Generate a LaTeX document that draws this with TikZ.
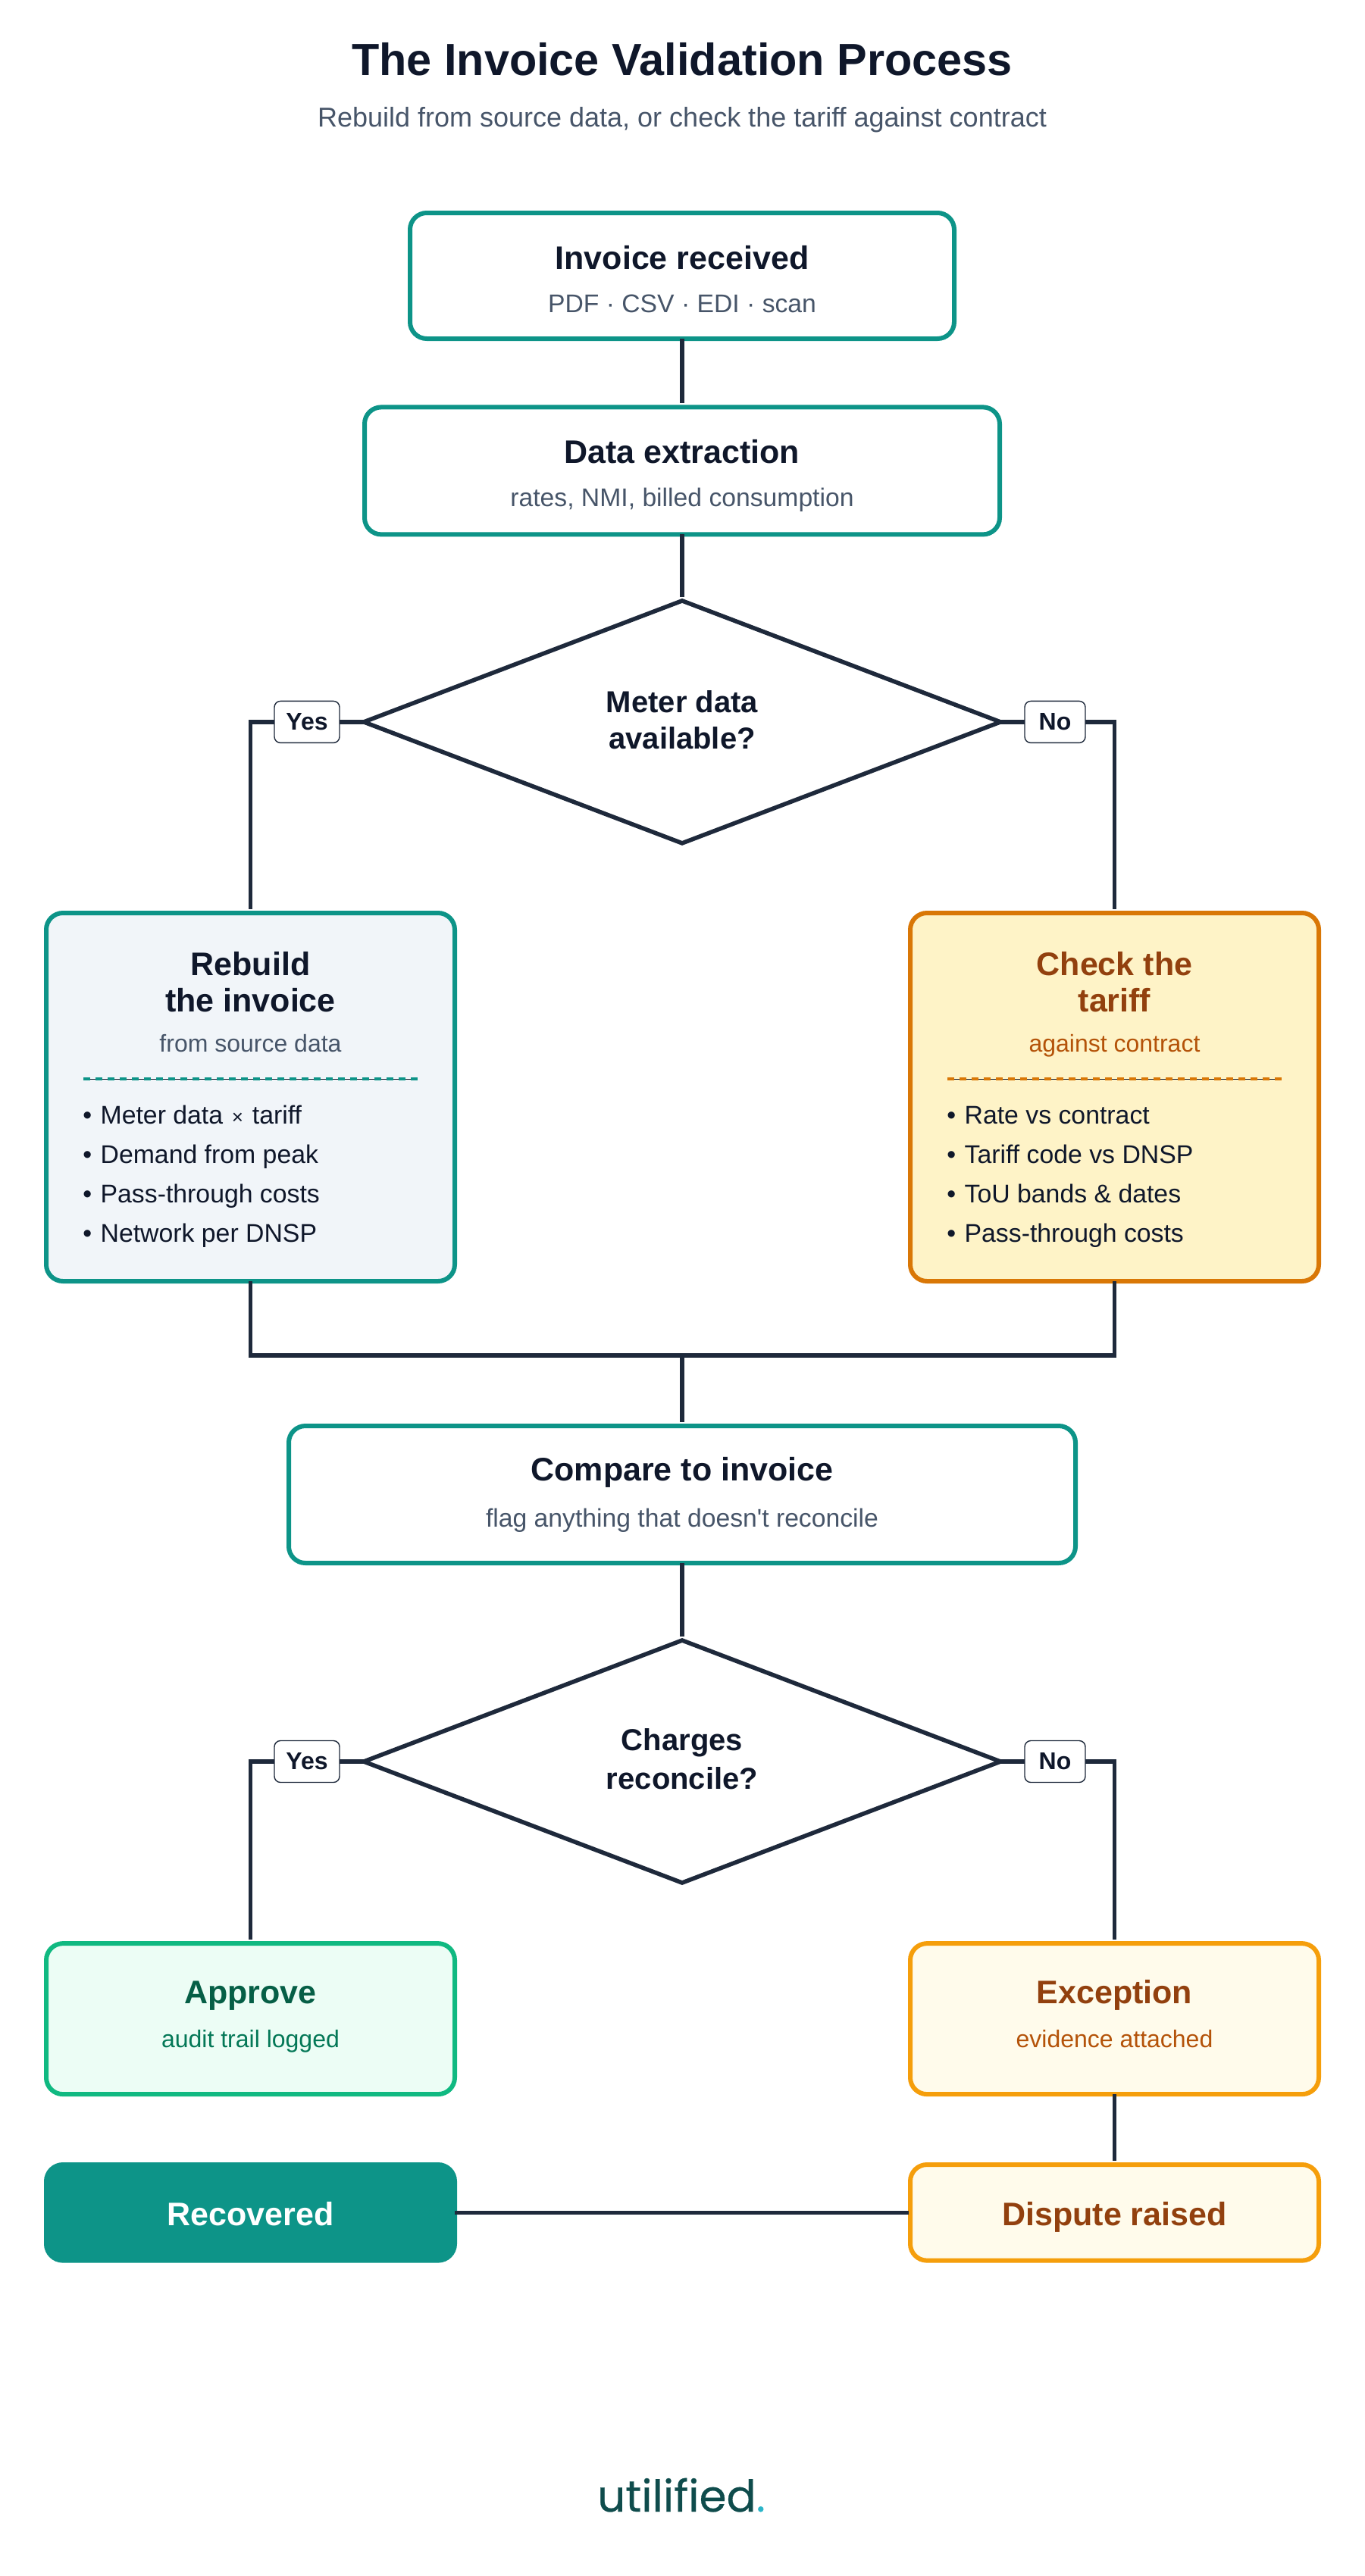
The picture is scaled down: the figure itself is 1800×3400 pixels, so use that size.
\documentclass[tikz,border=0pt]{standalone}
\usepackage{fontspec}
\setmainfont{Liberation Sans}[Ligatures=TeXOff]
\newfontfamily\logofont{Poppins}[FakeBold=0.4]
\usetikzlibrary{positioning,shapes.geometric}

\definecolor{inkDark}{HTML}{0F172A}
\definecolor{inkSub}{HTML}{475569}
\definecolor{lineDark}{HTML}{1E293B}
\definecolor{tealMain}{HTML}{0D9488}
\definecolor{slateFill}{HTML}{F1F5F9}
\definecolor{amberMain}{HTML}{D97706}
\definecolor{amberFill}{HTML}{FEF3C7}
\definecolor{amberHead}{HTML}{92400E}
\definecolor{amberSub}{HTML}{B45309}
\definecolor{amberEdge}{HTML}{F59E0B}
\definecolor{creamFill}{HTML}{FFFBEB}
\definecolor{greenEdge}{HTML}{10B981}
\definecolor{greenFill}{HTML}{ECFDF5}
\definecolor{greenHead}{HTML}{065F46}
\definecolor{greenSub}{HTML}{047857}
\definecolor{logoInk}{HTML}{0F4C4C}
\definecolor{logoDot}{HTML}{2BB5C9}

\newcommand{\headfont}{\fontsize{21.5pt}{23.75pt}\bfseries\selectfont}
\newcommand{\subfont}{\fontsize{16.85pt}{23.75pt}\selectfont}
\newcommand{\panelsubfont}{\fontsize{16pt}{23.75pt}\selectfont}
\newcommand{\bul}{•\hspace{1pt} }
\newcommand{\timesmark}{\hspace{1.2pt}{\fontsize{13pt}{13pt}\selectfont ×}\hspace{1.2pt}}

\begin{document}
\begin{tikzpicture}[x=0.5pt, y=-0.5pt,
    basebox/.style={rectangle, rounded corners=11pt, line width=3pt, outer sep=0pt, inner sep=0pt, align=center, text=inkDark, font=\fontsize{16pt}{23.75pt}\selectfont},
    procbox/.style={basebox, draw=tealMain, fill=white},
    decision/.style={diamond, draw=lineDark, fill=white, line width=2.8pt, outer sep=0pt, inner sep=0pt, aspect=2.625, minimum width=420pt, minimum height=160pt, align=center, text=inkDark, font=\fontsize{20pt}{23.65pt}\bfseries\selectfont},
    answer/.style={rectangle, rounded corners=4pt, draw=lineDark, fill=white, line width=0.7pt, outer sep=0pt, inner sep=0pt, minimum height=27.5pt, text=inkDark, font=\fontsize{16pt}{20pt}\bfseries\selectfont},
    conn/.style={draw=lineDark, line width=2.8pt},
    listtxt/.style={anchor=base west, align=left, inner sep=0pt, text=inkDark, font=\fontsize{16.9pt}{26pt}\selectfont},
    rulebase/.style={draw=inkDark, line width=0.5pt},
    ruledash/.style={line width=2pt, dash pattern=on 4.5pt off 3.5pt}
  ]
    \useasboundingbox (0,0) rectangle (1800,3400);
    % Heading
    \node[anchor=base, text=inkDark, font=\fontsize{29.7pt}{36pt}\bfseries\selectfont] (mainTitle) at (900,99) {The Invoice Validation Process};
    \node[anchor=base, text=inkSub, font=\fontsize{18pt}{22pt}\selectfont] (mainSub) at (900,167) {Rebuild from source data, or check the tariff against contract};
    % Rectangle: Invoice received
    \node[procbox, minimum width=359pt, minimum height=83pt, text height=48pt, text depth=0pt] (invoice) at (900,364) {{\headfont Invoice received}\\[4.75pt]{\subfont\color{inkSub} PDF · CSV · EDI · scan}};
    % Rectangle: Data extraction
    \node[procbox, minimum width=419pt, minimum height=84pt, text height=47pt, text depth=0pt, below=45.2pt of invoice] (extract) {{\headfont Data extraction}\\[4.75pt]{\subfont\color{inkSub} rates, NMI, billed consumption}};
    % Diamond: Meter data
    \node[decision, text height=35.3pt, text depth=0pt, below=43.75pt of extract] (meterCheck) {Meter data\\available?};
    \node[answer, minimum width=43pt, left=16pt of meterCheck] (meterYes) {Yes};
    \node[answer, minimum width=40pt, right=16pt of meterCheck] (meterNo) {No};
    % Panels: Rebuild and Check
    \node[basebox, draw=tealMain, fill=slateFill, minimum width=269.5pt, minimum height=243pt, text height=0pt, text depth=60pt] (rebuild) at (330.5,1448) {{\headfont Rebuild}\\{\headfont the invoice}\\[2.75pt]{\panelsubfont\color{inkSub} from source data}};
    \node[basebox, draw=amberMain, fill=amberFill, minimum width=269.5pt, minimum height=243pt, text height=0pt, text depth=60pt, text=amberHead] (tariff) at (1470.5,1448) {{\headfont Check the}\\{\headfont tariff}\\[2.75pt]{\panelsubfont\color{amberSub} against contract}};
    \draw[rulebase] (110,1424) -- (551,1424);
    \draw[ruledash, draw=tealMain] (110,1424) -- (551,1424);
    \draw[rulebase] (1250,1424) -- (1691,1424);
    \draw[ruledash, draw=amberMain] (1250,1424) -- (1691,1424);
    \node[listtxt] (rebuildList) at (109,1639.5) {\bul Meter data \timesmark{} tariff\\\bul Demand from peak\\\bul Pass-through costs\\\bul Network per DNSP};
    \node[listtxt] (tariffList) at (1249,1639.5) {\bul Rate vs contract\\\bul Tariff code vs DNSP\\\bul ToU bands \& dates\\\bul Pass-through costs};
    % Rectangle: Compare
    \coordinate (merge) at (900,1789);
    \node[procbox, minimum width=519pt, minimum height=90.5pt, below=46.5pt of merge, text height=42.5pt, text depth=0pt] (compare) {{\headfont Compare to invoice}\\[6.75pt]{\subfont\color{inkSub} flag anything that doesn't reconcile}};
    % Diamond: Charges
    \node[decision, text height=36.7pt, text depth=0pt, below=51pt of compare] (chargeCheck) {Charges\\[2.2pt]reconcile?};
    \node[answer, minimum width=43pt, left=16pt of chargeCheck] (chargeYes) {Yes};
    \node[answer, minimum width=40pt, right=16pt of chargeCheck] (chargeNo) {No};
    % Outcomes
    \node[basebox, draw=greenEdge, fill=greenFill, minimum width=269.5pt, minimum height=99.5pt, text height=37.4pt, text depth=0pt] (approve) at (330.5,2664.6) {{\headfont\color{greenHead} Approve}\\[4.95pt]{\panelsubfont\color{greenSub} audit trail logged}};
    \node[basebox, draw=amberEdge, fill=creamFill, minimum width=269.5pt, minimum height=99.5pt, text height=37.4pt, text depth=0pt] (exception) at (1470.5,2664.6) {{\headfont\color{amberHead} Exception}\\[4.95pt]{\panelsubfont\color{amberSub} evidence attached}};
    \node[basebox, draw=tealMain, fill=tealMain, minimum width=269.5pt, minimum height=63.3pt, text height=16.7pt, text depth=0pt, below=46.45pt of approve] (recovered) {{\headfont\color{white} Recovered}};
    \node[basebox, draw=amberEdge, fill=creamFill, minimum width=269.5pt, minimum height=63.3pt, text height=16.7pt, text depth=0pt, below=46.45pt of exception] (dispute) {{\headfont\color{amberHead} Dispute raised}};
    % Logo
    \node[anchor=base, text=logoInk, font=\fontsize{29pt}{36pt}\logofont\selectfont] (logo) at (899,3315) {utilified\textcolor{logoDot}{.}};
    % Connectors
    \draw[conn, shorten >=2.5pt] (invoice) -- (extract);
    \draw[conn, shorten >=2.5pt] (extract) -- (meterCheck);
    \draw[conn] (meterCheck.west) -- (meterYes.east);
    \draw[conn] (meterCheck.east) -- (meterNo.west);
    \draw[conn, shorten >=2.5pt] (meterYes.west) -| (rebuild.north);
    \draw[conn, shorten >=2.5pt] (meterNo.east) -| (tariff.north);
    \draw[conn] (rebuild.south) |- (merge);
    \draw[conn] (tariff.south) |- (merge);
    \draw[conn, shorten >=2.5pt] (merge) -- (compare);
    \draw[conn, shorten >=2.5pt] (compare) -- (chargeCheck);
    \draw[conn] (chargeCheck.west) -- (chargeYes.east);
    \draw[conn] (chargeCheck.east) -- (chargeNo.west);
    \draw[conn, shorten >=2.5pt] (chargeYes.west) -| (approve.north);
    \draw[conn, shorten >=2.5pt] (chargeNo.east) -| (exception.north);
    \draw[conn, shorten >=2.5pt] (exception) -- (dispute);
    \draw[conn, shorten >=1pt] (recovered) -- (dispute);
\end{tikzpicture}
\end{document}
